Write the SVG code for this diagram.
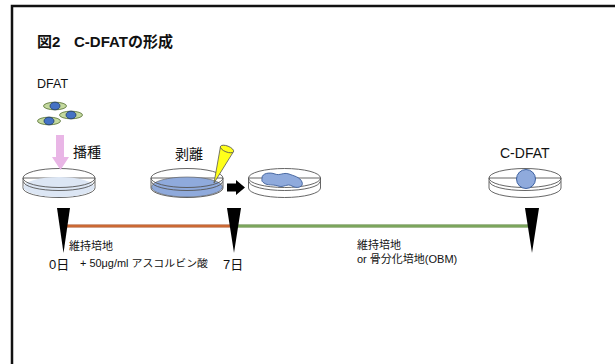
<svg xmlns="http://www.w3.org/2000/svg" xmlns:xlink="http://www.w3.org/1999/xlink" width="615" height="364" viewBox="0 0 615 364">
  <style>
    text { font-family: "Liberation Sans", "Noto Sans CJK JP", sans-serif; fill: #111; }
    .title { font-size: 15px; font-weight: bold; }
    .label { font-size: 14px; }
    .small { font-size: 11px; }
    .day { font-size: 13px; }
    .dish-line { fill: none; stroke: #555; stroke-width: 0.9; }
    .dish-body { fill: #fff; stroke: #555; stroke-width: 0.9; }
    .marker { fill: #000; }
    .cell { fill: #c4d99f; stroke: #4f6b2b; stroke-width: 0.8; }
    .nucleus { fill: #4472c4; stroke: #1f3864; stroke-width: 0.8; }
  </style>
  <defs>
    <!-- petri dish, origin at centre of the rim ellipse -->
    <g id="dish-body">
      <path class="dish-body" d="M-36,0 V10 A36,9.5 0 0 0 36,10 V0 Z"/>
    </g>
    <g id="dish-rim">
      <path class="dish-line" d="M-35.5,3.5 A35.5,9 0 0 0 35.5,3.5"/>
      <ellipse class="dish-line" cx="0" cy="0" rx="36" ry="9.5"/>
    </g>
  </defs>

  <rect x="0" y="0" width="615" height="364" fill="#fff"/>
  <!-- frame -->
  <path d="M12,364 V6 H615" fill="none" stroke="#111" stroke-width="2.5"/>

  <text class="title" y="47"><tspan x="37">図2</tspan><tspan x="74">C-DFATの形成</tspan></text>

  <!-- DFAT cells -->
  <g id="dfat">
    <text x="37" y="88" style="font-size:12.5px">DFAT</text>
    <ellipse class="cell" cx="55" cy="106" rx="11.5" ry="3.8"/>
    <ellipse class="nucleus" cx="55" cy="106" rx="5" ry="3.8"/>
    <ellipse class="cell" cx="71" cy="115" rx="11.5" ry="3.8"/>
    <ellipse class="nucleus" cx="71" cy="115" rx="5" ry="3.8"/>
    <ellipse class="cell" cx="49" cy="121" rx="11.5" ry="3.8"/>
    <ellipse class="nucleus" cx="49" cy="121" rx="5" ry="3.8"/>
  </g>

  <!-- seeding -->
  <g id="seeding">
    <use xlink:href="#dish-body" transform="translate(59,178)"/>
    <ellipse cx="59" cy="187" rx="35.5" ry="10" fill="#dce6f4"/>
    <use xlink:href="#dish-rim" transform="translate(59,178)"/>
    <path d="M56,135 H64 V157 H69 L60.5,170 L52,157 H56 Z" fill="#e9b6e6"/>
    <text class="label" x="73" y="157">播種</text>
  </g>

  <!-- detachment -->
  <g id="detach">
    <use xlink:href="#dish-body" transform="translate(187,178)"/>
    <ellipse cx="187" cy="187" rx="35.5" ry="10" fill="#8faadc" stroke="#555" stroke-width="0.6"/>
    <use xlink:href="#dish-rim" transform="translate(187,178)"/>
    <path d="M214,183 L233.5,151.6 L220.5,146.4 Z" fill="#ffff1a" stroke="#555" stroke-width="0.8"/>
    <ellipse cx="227" cy="149" rx="7" ry="3" transform="rotate(21.5 227 149)" fill="#ffff1a" stroke="#555" stroke-width="0.8"/>
    <text class="label" x="175" y="159">剥離</text>
  </g>

  <!-- detached sheet -->
  <g id="sheet">
    <use xlink:href="#dish-body" transform="translate(284.5,178)"/>
    <use xlink:href="#dish-rim" transform="translate(284.5,178)"/>
    <path d="M262,178 C262,173 270,172 275,174 C280,176 283,172 289,174 C294,176 300,177 302,182 C304,187 297,189 292,186 C287,183 284,188 278,186 C272,184 268,186 264,183 C261,181 262,180 262,178 Z" fill="#8faadc" stroke="#3c5e9a" stroke-width="0.9"/>
  </g>

  <!-- C-DFAT -->
  <g id="cdfat">
    <use xlink:href="#dish-body" transform="translate(525,178)"/>
    <use xlink:href="#dish-rim" transform="translate(525,178)"/>
    <circle cx="526" cy="179" r="9.5" fill="#8faadc" stroke="#2f5597" stroke-width="0.9"/>
    <text class="label" x="500" y="158">C-DFAT</text>
  </g>

  <!-- connectors -->
  <g id="connectors">
    <path d="M227,183.5 H236 V180 L245,187.5 L236,195 V191.5 H227 Z" fill="#000"/>
    <line x1="64" y1="226" x2="233" y2="226" stroke="#a8481c" stroke-width="3"/>
    <line x1="64" y1="226" x2="233" y2="226" stroke="#ee8a4a" stroke-width="1"/>
    <line x1="233" y1="226" x2="531" y2="226" stroke="#4f7a2b" stroke-width="3"/>
    <line x1="233" y1="226" x2="531" y2="226" stroke="#a9d18e" stroke-width="1"/>
    <polygon class="marker" points="57,208 70,208 63.5,253"/>
    <polygon class="marker" points="227,208 241,208 234,253"/>
    <polygon class="marker" points="525,208 539,208 532,253"/>
  </g>

  <!-- timeline labels -->
  <g id="labels">
    <text class="small" x="69" y="250">維持培地</text>
    <text class="day" x="49" y="269">0日</text>
    <text x="80" y="267" style="font-size:10px" textLength="128" lengthAdjust="spacingAndGlyphs">+ 50μg/ml アスコルビン酸</text>
    <text class="day" x="223" y="269">7日</text>
    <text class="small" x="357" y="249">維持培地</text>
    <text class="small" x="357" y="263">or 骨分化培地(OBM)</text>
  </g>
</svg>
